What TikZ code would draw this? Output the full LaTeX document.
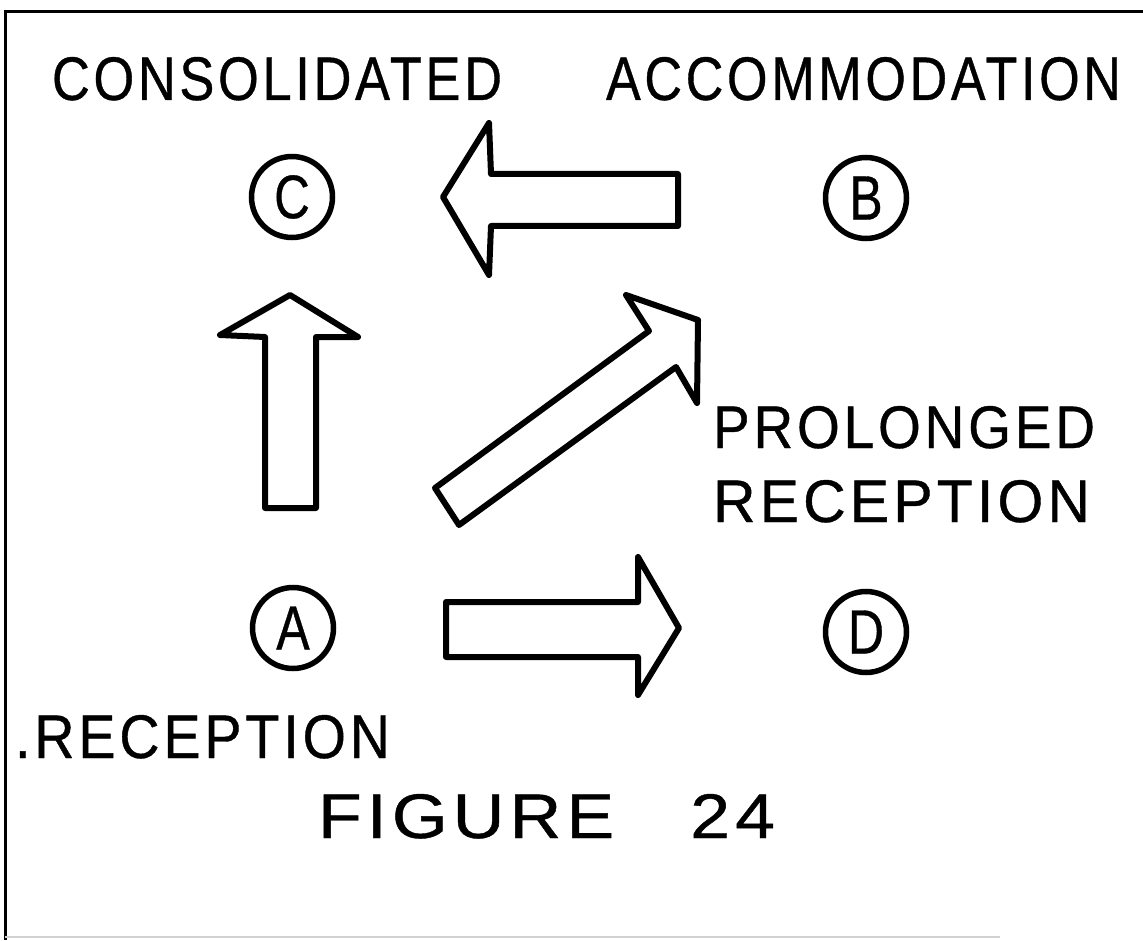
\documentclass[tikz,border=0pt]{standalone}
\usepackage{fontspec}
\usepackage{graphicx}
\setmainfont{Liberation Sans}
\newfontfamily\lett[FakeStretch=0.8,FakeBold=0.6]{Liberation Sans}
\newfontfamily\lettsp[FakeStretch=0.85,FakeBold=0.6,LetterSpace=6]{Liberation Sans}
\newcommand{\lbl}[3]{\resizebox{#1}{#2}{\fontsize{60}{72}\lettsp #3}}
\newcommand{\circletter}[1]{\resizebox{!}{43pt}{\fontsize{60}{72}\lett #1}}
\tikzset{
  lab/.style={inner sep=0pt, outer sep=0pt, anchor=base west},
  circ/.style={circle, draw, line width=5.5pt, minimum size=81pt, inner sep=0pt},
  blk/.style={draw, line width=6pt, line join=round, line cap=round, fill=white},
  frame/.style={line width=3pt, line cap=rect}
}
\begin{document}
\begin{tikzpicture}[x=1pt,y=-1pt]
\useasboundingbox (0,0) rectangle (1143,941);
% frame
\draw[frame] (1143,12) -- (5,12) -- (5,938);
\draw[gray!35, line width=1.5pt] (5,937) -- (1000,937);
% labels
\node[lab] (cons) at (52,100) {\lbl{450pt}{43pt}{CONSOLIDATED}};
\node[lab] (acc) at (606,100) {\lbl{515pt}{43pt}{ACCOMMODATION}};
\node[lab] (prol) at (713,448) {\lbl{382pt}{42pt}{PROLONGED}};
\node[lab] (prec) at (713,522) {\lbl{377pt}{42pt}{RECEPTION}};
\node[lab] (rec) at (15,758) {\lbl{375pt}{43pt}{.RECEPTION}};
\node[lab] (fig) at (318,838) {\lbl{457pt}{44pt}{FIGURE\hspace{0.9em}24}};
% circled nodes
\node[circ] (C) at (292,197) {\circletter{C}};
\node[circ] (B) at (866,198) {\circletter{B}};
\node[circ] (A) at (293,628) {\circletter{A}};
\node[circ] (D) at (866,632) {\circletter{D}};
% block arrows
\draw[blk] (443,197) -- (489,123) -- (491,174) -- (678,174) -- (678,226) -- (491,226) -- (489,275) -- cycle;
\draw[blk] (290,295) -- (358,337) -- (316,337) -- (316,508) -- (265,508) -- (265,337) -- (220,335) -- cycle;
\draw[blk] (435,488) -- (649,331) -- (626,295) -- (698,320) -- (697,403) -- (676,367) -- (459,525) -- cycle;
\draw[blk] (446,602) -- (638,602) -- (638,557) -- (679,628) -- (638,695) -- (638,657) -- (446,657) -- cycle;
\end{tikzpicture}
\end{document}
